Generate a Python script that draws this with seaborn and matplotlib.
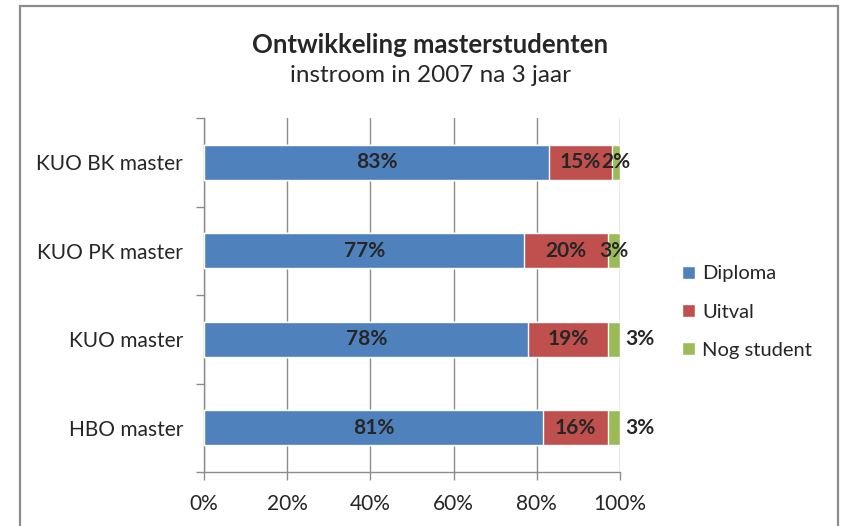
import pandas as pd
import matplotlib
matplotlib.use("Agg")
import matplotlib.pyplot as plt
import seaborn as sns
from matplotlib.patches import Rectangle, Patch
from matplotlib.ticker import FixedLocator, PercentFormatter

# data (percentages)
opleidingen = ["KUO BK master", "KUO PK master", "KUO master", "HBO master"]
diploma = [83, 77, 78, 81.5]
uitval = [15, 20, 19, 15.5]
nog_student = [2, 3, 3, 3]
diploma_lbl = ["83%", "77%", "78%", "81%"]
uitval_lbl = ["15%", "20%", "19%", "16%"]
nog_lbl = ["2%", "3%", "3%", "3%"]

series = ["Diploma", "Uitval", "Nog student"]
colors = ["#4F81BD", "#C0504D", "#9BBB59"]

df = pd.DataFrame({"opleiding": opleidingen, "Diploma": diploma,
                   "Uitval": uitval, "Nog student": nog_student})
# cumulative sums for layering the stacked bars
df["cum1"] = df["Diploma"]
df["cum2"] = df["Diploma"] + df["Uitval"]
df["cum3"] = df["cum2"] + df["Nog student"]

sns.set_style("white")
plt.rcParams["font.family"] = ["Lato", "DejaVu Sans"]

fig = plt.figure(figsize=(8.44, 5.26), dpi=100)
ax = fig.add_axes([204 / 844, 54 / 526, 416 / 844, 354 / 526])

# draw from the back (total) to the front (first segment)
sns.barplot(data=df, x="cum3", y="opleiding", color=colors[2], width=0.4,
            orient="h", ax=ax, saturation=1, zorder=3)
sns.barplot(data=df, x="cum2", y="opleiding", color=colors[1], width=0.4,
            orient="h", ax=ax, saturation=1, zorder=3)
sns.barplot(data=df, x="cum1", y="opleiding", color=colors[0], width=0.4,
            orient="h", ax=ax, saturation=1, zorder=3)

# data labels
green_shift = [0, 0, 6.3, 6.3]  # Excel pushes some small labels outside the bar
for i in range(len(opleidingen)):
    d, u, n = diploma[i], uitval[i], nog_student[i]
    ax.text(d / 2, i, diploma_lbl[i], ha="center", va="center",
            fontsize=15, fontweight="bold", zorder=5)
    ax.text(d + u / 2, i, uitval_lbl[i], ha="center", va="center",
            fontsize=15, fontweight="bold", zorder=5)
    ax.text(d + u + n / 2 + green_shift[i], i, nog_lbl[i], ha="center",
            va="center", fontsize=15, fontweight="bold", zorder=5)

ax.set_xlim(0, 100)
ax.set_ylim(3.5, -0.5)
ax.set_xlabel("")
ax.set_ylabel("")
ax.xaxis.set_major_locator(FixedLocator([0, 20, 40, 60, 80, 100]))
ax.xaxis.set_major_formatter(PercentFormatter(decimals=0))
ax.yaxis.set_minor_locator(FixedLocator([-0.5, 0.5, 1.5, 2.5, 3.5]))

ax.grid(axis="x", color="#8C8C8C", linewidth=1, zorder=0)
ax.set_axisbelow(True)
for side in ["top", "right"]:
    ax.spines[side].set_visible(False)
for side in ["left", "bottom"]:
    ax.spines[side].set_color("#8C8C8C")
    ax.spines[side].set_linewidth(1)

ax.tick_params(axis="x", which="major", direction="out", length=6, width=1,
               color="#8C8C8C", labelsize=15, pad=10, bottom=True)
ax.tick_params(axis="y", which="major", length=0, labelsize=15, pad=15)
ax.tick_params(axis="y", which="minor", direction="out", length=6, width=1,
               color="#8C8C8C", left=True)

# legend
handles = [Patch(facecolor=c, label=s) for c, s in zip(colors, series)]
fig.legend(handles=handles, loc="center left", bbox_to_anchor=(664 / 844, 1 - 312 / 526),
           frameon=False, fontsize=14.5, handlelength=0.65, handleheight=0.65,
           handletextpad=0.35, labelspacing=1.05)

# titles
fig.text(430 / 844, 1 - 45 / 526, "Ontwikkeling masterstudenten", ha="center",
         va="center", fontsize=18.5, fontweight="bold")
fig.text(430 / 844, 1 - 76 / 526, "instroom in 2007 na 3 jaar", ha="center",
         va="center", fontsize=17.5)

# chart frame
fig.patches.append(Rectangle((20 / 844, -0.05), 818 / 844, 1.05 - 6 / 526,
                             transform=fig.transFigure, fill=False,
                             edgecolor="#8C8C8C", linewidth=1.6))

fig.savefig("out.png", dpi=100)
